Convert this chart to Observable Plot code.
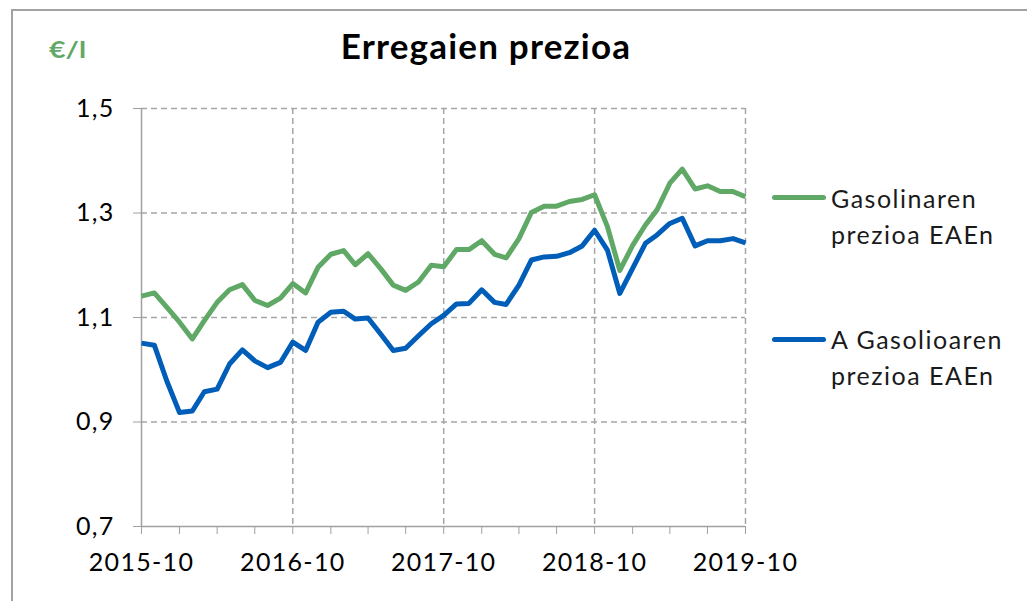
<!DOCTYPE html>
<html>
<head>
<meta charset="utf-8">
<script src="https://cdn.jsdelivr.net/npm/d3@7"></script>
<script src="https://cdn.jsdelivr.net/npm/@observablehq/plot@0.6"></script>
<style>
  html, body { margin: 0; padding: 0; background: #fff; }
  body { width: 1027px; height: 601px; overflow: hidden; position: relative; font-family: Lato, "Open Sans", sans-serif; }
  #frame { position: absolute; left: 11px; top: 9px; width: 1100px; height: 700px; border-top: 2px solid #a3a3a3; border-left: 2px solid #a3a3a3; }
  #chart { position: absolute; left: 0; top: 0; }
  .title { position: absolute; left: 0; width: 972px; top: 24px; text-align: center; font-weight: 700; font-size: 35px; letter-spacing: 1.2px; color: #000; }
  .unit { position: absolute; left: 49px; top: 36px; font-weight: 700; font-size: 22px; color: #5fa866; transform: scaleX(1.3); transform-origin: left top; }
  .leg { position: absolute; left: 772px; width: 54px; height: 5px; border-radius: 3px; }
  .legtxt { position: absolute; left: 831px; font-size: 25px; line-height: 36px; letter-spacing: 1.5px; color: #1a1a1a; }
  #chart svg text { letter-spacing: 1.3px; }
</style>
</head>
<body>
<div id="frame"></div>
<div id="chart"></div>
<div class="title">Erregaien prezioa</div>
<div class="unit">€/l</div>
<div class="leg" style="top:195px;background:#5fa866"></div>
<div class="legtxt" style="top:180px">Gasolinaren<br>prezioa EAEn</div>
<div class="leg" style="top:337px;background:#005eb8"></div>
<div class="legtxt" style="top:321px">A Gasolioaren<br>prezioa EAEn</div>
<script>
// Monthly categories 2015-10 .. 2019-10
const months = d3.utcMonth.range(new Date(Date.UTC(2015, 9, 1)), new Date(Date.UTC(2019, 10, 1)));

const gasolina = [1.141,1.147,1.120,1.091,1.059,1.094,1.129,1.153,1.163,1.133,1.123,1.137,
  1.165,1.147,1.196,1.221,1.228,1.201,1.222,1.194,1.162,1.152,1.168,1.200,
  1.197,1.230,1.230,1.247,1.221,1.214,1.251,1.301,1.313,1.313,1.322,1.326,
  1.335,1.274,1.190,1.238,1.277,1.306,1.357,1.384,1.346,1.352,1.341,1.341,1.331];

const gasoleo = [1.051,1.047,0.979,0.918,0.921,0.958,0.963,1.011,1.038,1.017,1.004,1.014,
  1.053,1.037,1.091,1.110,1.112,1.097,1.099,1.069,1.037,1.041,1.065,1.088,
  1.104,1.126,1.127,1.153,1.129,1.125,1.162,1.210,1.216,1.217,1.224,1.237,
  1.267,1.229,1.146,1.194,1.242,1.258,1.280,1.290,1.237,1.247,1.247,1.251,1.243];

const yTicks = [0.7, 0.9, 1.1, 1.3, 1.5];
const xTickLabels = ["2015-10", "2016-10", "2017-10", "2018-10", "2019-10"];

const rows = [];
months.forEach((m, i) => {
  rows.push({date: m, value: gasolina[i], serie: "Gasolinaren prezioa EAEn"});
  rows.push({date: m, value: gasoleo[i], serie: "A Gasolioaren prezioa EAEn"});
});

const quarterTicks = months.filter((d, i) => i % 3 === 0);
const yearTicks = months.filter((d, i) => i % 12 === 0);
const labelOf = d => {
  const idx = yearTicks.findIndex(y => +y === +d);
  return idx >= 0 ? xTickLabels[idx] : "";
};

const grid = "#a6a6a6";
const axisCol = "#a0a0a0";

const chart = Plot.plot({
  width: 1027,
  height: 601,
  marginLeft: 141,
  marginRight: 282,
  marginTop: 108,
  marginBottom: 75,
  style: {fontFamily: "Lato, 'Open Sans', sans-serif", fontSize: "25px", color: "#000", background: "transparent"},
  x: {type: "utc", domain: [months[0], months[months.length - 1]]},
  y: {domain: [0.7, 1.5]},
  color: {domain: ["Gasolinaren prezioa EAEn", "A Gasolioaren prezioa EAEn"], range: ["#5fa866", "#005eb8"]},
  marks: [
    Plot.ruleY(yTicks.slice(1), {stroke: grid, strokeWidth: 1.5, strokeDasharray: "6,4"}),
    Plot.ruleX(yearTicks.slice(1), {stroke: grid, strokeWidth: 1.5, strokeDasharray: "6,4"}),
    Plot.ruleX([months[0]], {stroke: axisCol, strokeWidth: 1.5}),
    Plot.ruleY([0.7], {stroke: axisCol, strokeWidth: 1.5}),
    Plot.axisY({ticks: yTicks, tickFormat: d => d.toFixed(1).replace(".", ","), tickSize: 8, tickPadding: 19, stroke: axisCol, fill: "#000", fontSize: 25, label: null}),
    Plot.axisX({ticks: quarterTicks, tickFormat: labelOf, tickSize: 8, tickPadding: 19, stroke: axisCol, fill: "#000", fontSize: 25, label: null}),
    Plot.line(rows, {x: "date", y: "value", z: "serie", stroke: "serie", strokeWidth: 5, strokeLinejoin: "round", strokeLinecap: "butt"})
  ]
});
document.getElementById("chart").appendChild(chart);
</script>
</body>
</html>
